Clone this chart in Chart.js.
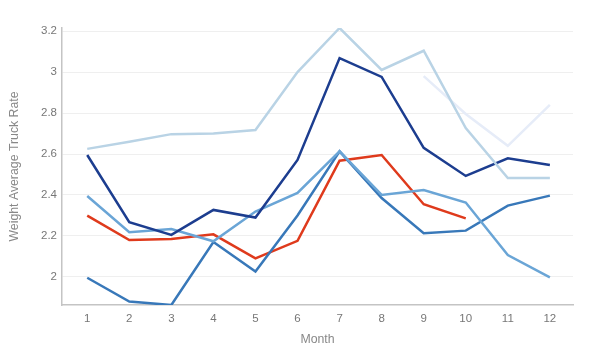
<!DOCTYPE html>
<html>
<head>
<meta charset="utf-8">
<script src="https://cdn.jsdelivr.net/npm/chart.js@4/dist/chart.umd.min.js"></script>
<style>
  html, body { margin: 0; padding: 0; background: #fff; }
  #wrap { width: 600px; height: 360px; }
</style>
</head>
<body>
<div id="wrap"><canvas id="c" width="600" height="360"></canvas></div>
<script>
const months = [1, 2, 3, 4, 5, 6, 7, 8, 9, 10, 11, 12];
const yTicks = [2, 2.2, 2.4, 2.6, 2.8, 3, 3.2];

const seriesLightest = [2.625, 2.66, 2.697, 2.70, 2.717, 3.0, 3.215, 3.01, 3.104, 2.727, 2.483, 2.483];
const seriesFaint    = [null, null, null, null, null, null, null, null, 2.98, 2.795, 2.64, 2.84];
const seriesNavy     = [2.595, 2.267, 2.205, 2.327, 2.29, 2.571, 3.068, 2.976, 2.63, 2.493, 2.579, 2.546];
const seriesMidLight = [2.395, 2.218, 2.234, 2.174, 2.319, 2.41, 2.613, 2.40, 2.424, 2.363, 2.107, 1.998];
const seriesMid      = [1.996, 1.88, 1.863, 2.17, 2.026, 2.30, 2.613, 2.385, 2.213, 2.226, 2.348, 2.397];
const seriesRed      = [2.299, 2.18, 2.185, 2.208, 2.091, 2.176, 2.567, 2.595, 2.355, 2.286, null, null];

const toPts = arr => months.map((m, i) => ({ x: m, y: arr[i] }));

const mk = (data, color) => ({
  data: toPts(data),
  borderColor: color,
  backgroundColor: color,
  borderWidth: 2.5,
  pointRadius: 0,
  pointHoverRadius: 0,
  fill: false,
  tension: 0,
  spanGaps: false
});

new Chart(document.getElementById('c'), {
  type: 'line',
  data: {
    datasets: [
      mk(seriesLightest, '#b9d3e5'),
      mk(seriesFaint, '#e6ecf8'),
      mk(seriesNavy, '#1c3d8f'),
      mk(seriesMidLight, '#6aa5d6'),
      mk(seriesMid, '#3878b9'),
      mk(seriesRed, '#df3a1c')
    ]
  },
  options: {
    responsive: false,
    animation: false,
    devicePixelRatio: 1,
    layout: { padding: { left: 0, right: 27, top: 28, bottom: 0 } },
    plugins: { legend: { display: false }, tooltip: { enabled: false } },
    scales: {
      x: {
        type: 'linear',
        min: 0.4,
        max: 12.55,
        afterBuildTicks: s => { s.ticks = months.map(v => ({ value: v })); },
        afterFit: s => { s.height = 55; },
        grid: { display: false, drawTicks: false },
        border: { display: true, color: '#c4c4c4', width: 1.5 },
        ticks: {
          color: '#777',
          font: { family: 'Liberation Sans, Arial, sans-serif', size: 11.5 },
          padding: 7,
          maxRotation: 0,
          autoSkip: false,
          callback: v => String(v)
        },
        title: {
          display: true,
          text: 'Month',
          color: '#888',
          font: { family: 'Liberation Sans, Arial, sans-serif', size: 12.3 },
          padding: { top: 0, bottom: 13 }
        }
      },
      y: {
        min: 1.863,
        max: 3.215,
        afterBuildTicks: s => { s.ticks = yTicks.map(v => ({ value: v })); },
        afterFit: s => { s.width = 62; },
        grid: { color: '#efefef', lineWidth: 1, drawTicks: false },
        border: { display: true, color: '#c4c4c4', width: 1.5 },
        ticks: {
          color: '#777',
          font: { family: 'Liberation Sans, Arial, sans-serif', size: 11.5 },
          padding: 5,
          callback: v => String(Math.round(v * 10) / 10)
        },
        title: {
          display: true,
          text: 'Weight Average Truck Rate',
          color: '#888',
          font: { family: 'Liberation Sans, Arial, sans-serif', size: 12.3 },
          padding: { top: 7, bottom: 0 }
        }
      }
    }
  }
});
</script>
</body>
</html>
